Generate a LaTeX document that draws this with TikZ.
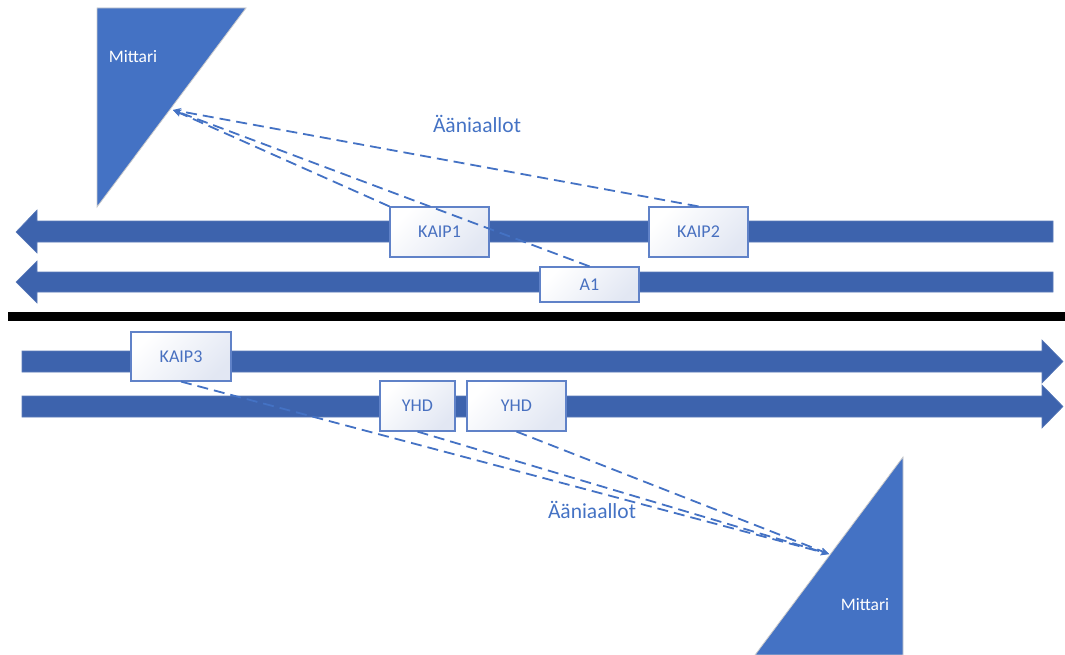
\documentclass[tikz,border=0pt]{standalone}
\usepackage{fontspec}
\setmainfont{Carlito}
\usetikzlibrary{arrows.meta}

\definecolor{meterblue}{RGB}{68,114,196}
\definecolor{laneblue}{RGB}{61,99,173}
\definecolor{boxedge}{RGB}{96,130,200}
\definecolor{boxtext}{RGB}{72,112,192}
\definecolor{boxshade}{RGB}{226,231,243}

\tikzset{
  lane/.style={fill=laneblue, draw=laneblue!85!white, line width=0.6pt},
  meter/.style={fill=meterblue, draw=black!20, line width=0.8pt},
  meterlabel/.style={text=white, font=\fontsize{17.5}{20}\selectfont, inner sep=0pt},
  vehicle/.style={draw=boxedge, line width=1.2pt, left color=white, right color=boxshade,
    shading angle=45, text=boxtext, font=\fontsize{18}{20}\selectfont,
    minimum width=99pt, minimum height=50pt, inner sep=0pt},
  wave/.style={draw=meterblue, line width=1.8pt, dash pattern=on 11pt off 6pt,
    -{Stealth[length=8pt,width=7pt]}},
  wavelabel/.style={text=meterblue, font=\fontsize{21.5}{24}\selectfont, inner sep=0pt}
}

\begin{document}
\begin{tikzpicture}[x=1pt, y=-1pt]
\useasboundingbox (0,0) rectangle (1065,655);

% roadway: two westbound lanes, the median, two eastbound lanes
\fill[lane] (16,232) -- (37,210) -- (37,221) -- (1053,221) -- (1053,242) -- (37,242) -- (37,253) -- cycle;
\fill[lane] (16,282) -- (37,261) -- (37,272) -- (1053,272) -- (1053,292) -- (37,292) -- (37,303) -- cycle;
\fill[black] (8,312) rectangle (1065,321);
\fill[lane] (22,351) -- (1042,351) -- (1042,340) -- (1063,361.5) -- (1042,383) -- (1042,372) -- (22,372) -- cycle;
\fill[lane] (22,396) -- (1042,396) -- (1042,385) -- (1063,406.5) -- (1042,428) -- (1042,417) -- (22,417) -- cycle;

% sound level meters
\filldraw[meter] (97,8) -- (246,8) -- (97,207) -- cycle;
\node[meterlabel] (m1) at (133,57) {Mittari};
\filldraw[meter] (903,457) -- (903,655) -- (755,655) -- cycle;
\node[meterlabel] (m2) at (865,605) {Mittari};

\coordinate (m1tip) at (173,110);
\coordinate (m2tip) at (829,554);

% vehicles
\node[vehicle] (k1) at (439.5,232) {KAIP1};
\node[vehicle] (k2) at (698.5,232) {KAIP2};
\node[vehicle, minimum height=35pt] (a1) at (589.5,284.5) {A1};
\node[vehicle, minimum width=100pt, minimum height=49pt] (k3) at (181,356.5) {KAIP3};
\node[vehicle, minimum width=75pt] (y1) at (417.5,406) {YHD};
\node[vehicle] (y2) at (516.5,406) {YHD};

% sound paths
\draw[wave] (k2.north) -- (m1tip);
\draw[wave] (k1.north west) -- (m1tip);
\draw[wave] (a1.north) -- (m1tip);
\node[wavelabel] (w1) at (477,124) {Ääniaallot};

\draw[wave] (k3.south) -- (m2tip);
\draw[wave] (y1.south) -- (m2tip);
\draw[wave] (y2.south) -- (m2tip);
\node[wavelabel] (w2) at (592,510) {Ääniaallot};
\end{tikzpicture}
\end{document}
